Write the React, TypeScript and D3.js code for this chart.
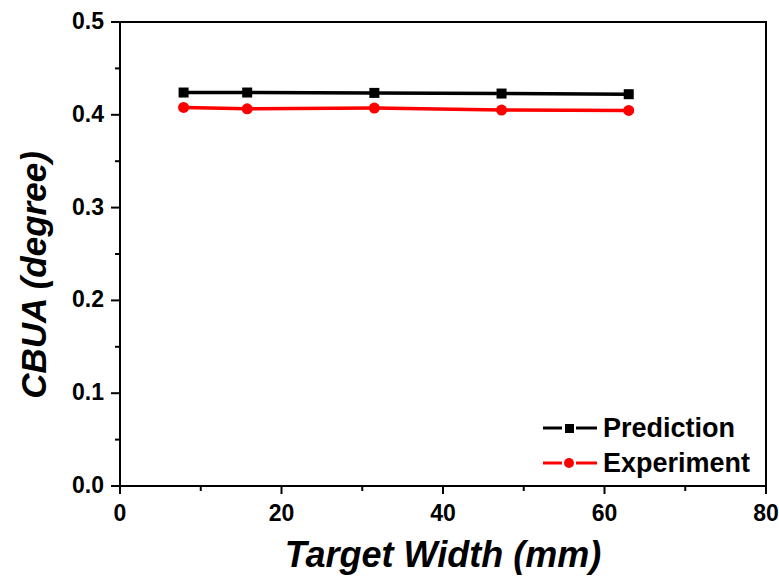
import React from "react";
import * as d3 from "d3";

const widths = [7.875, 15.75, 31.5, 47.25, 63];
const prediction = [0.424, 0.424, 0.4236, 0.4229, 0.4222];
const experiment = [0.408, 0.4065, 0.4073, 0.4051, 0.4047];
const xTicks = [0, 20, 40, 60, 80];
const yTicks = [0, 0.1, 0.2, 0.3, 0.4, 0.5];
const xMinor = [10, 30, 50, 70];
const yMinor = [0.05, 0.15, 0.25, 0.35, 0.45];

const W = 779, H = 576;
const L = 120, R = 766, T = 22, B = 486;
const FONT = "'Liberation Sans', Arial, sans-serif";

export default function App() {
  const x = d3.scaleLinear().domain([0, 80]).range([L, R]);
  const y = d3.scaleLinear().domain([0, 0.5]).range([B, T]);
  const line = d3.line<number>().x((_, i) => x(widths[i])).y((d) => y(d));
  return (
    <svg width={W} height={H} style={{ position: "absolute", left: 0, top: 0 }} fontFamily={FONT}>
      <rect x={0} y={0} width={W} height={H} fill="#fff" />
      <rect x={L} y={T} width={R - L} height={B - T} fill="none" stroke="#000" strokeWidth={2} />
      {xTicks.map((t) => (
        <g key={"xt" + t}>
          <line x1={x(t)} x2={x(t)} y1={B} y2={B + 8} stroke="#000" strokeWidth={2} />
          <text x={x(t)} y={521} textAnchor="middle" fontSize={23} fontWeight="bold">{t}</text>
        </g>
      ))}
      {xMinor.map((t) => (
        <line key={"xm" + t} x1={x(t)} x2={x(t)} y1={B} y2={B + 5} stroke="#000" strokeWidth={2} />
      ))}
      {yTicks.map((t) => (
        <g key={"yt" + t}>
          <line x1={L - 9} x2={L} y1={y(t)} y2={y(t)} stroke="#000" strokeWidth={2} />
          <text x={L - 16} y={y(t) + 7} textAnchor="end" fontSize={23} fontWeight="bold">{t.toFixed(1)}</text>
        </g>
      ))}
      {yMinor.map((t) => (
        <line key={"ym" + t} x1={L - 5} x2={L} y1={y(t)} y2={y(t)} stroke="#000" strokeWidth={2} />
      ))}
      <path d={line(prediction) || ""} fill="none" stroke="#000" strokeWidth={3.5} />
      {prediction.map((v, i) => (
        <rect key={"p" + i} x={x(widths[i]) - 5} y={y(v) - 5} width={10} height={10} fill="#000" />
      ))}
      <path d={line(experiment) || ""} fill="none" stroke="#ff0000" strokeWidth={3.5} />
      {experiment.map((v, i) => (
        <circle key={"e" + i} cx={x(widths[i])} cy={y(v)} r={5.5} fill="#ff0000" />
      ))}
      <g>
        <line x1={543} x2={562} y1={428} y2={428} stroke="#000" strokeWidth={3} />
        <line x1={576} x2={597} y1={428} y2={428} stroke="#000" strokeWidth={3} />
        <rect x={565} y={424} width={9} height={9} fill="#000" />
        <text x={603} y={437} fontSize={27} fontWeight="bold">Prediction</text>
        <line x1={543} x2={562} y1={463} y2={463} stroke="#ff0000" strokeWidth={3} />
        <line x1={576} x2={597} y1={463} y2={463} stroke="#ff0000" strokeWidth={3} />
        <circle cx={569} cy={463} r={5} fill="#ff0000" />
        <text x={603} y={472} fontSize={27} fontWeight="bold">Experiment</text>
      </g>
      <text x={443} y={567} textAnchor="middle" fontSize={36} fontWeight="bold" fontStyle="italic">Target Width (mm)</text>
      <text transform={`translate(46,275) rotate(-90)`} textAnchor="middle" fontSize={35} fontWeight="bold" fontStyle="italic">CBUA (degree)</text>
    </svg>
  );
}
